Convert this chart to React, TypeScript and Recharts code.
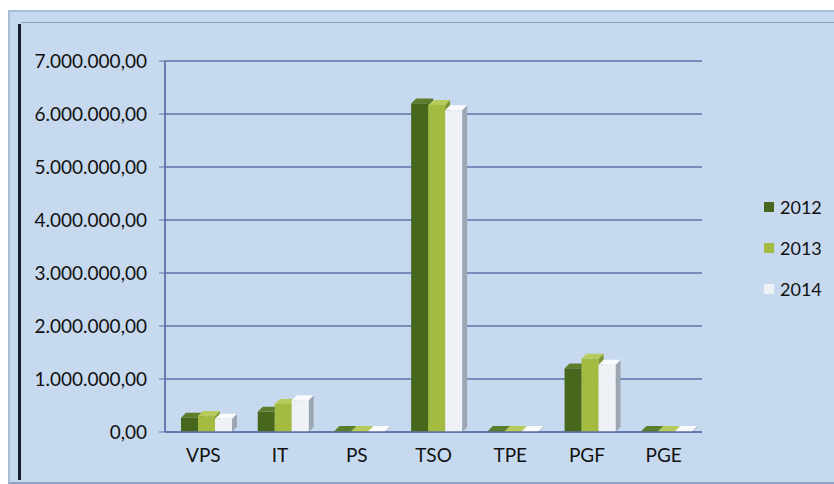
import { Bar, BarChart, CartesianGrid, Legend, XAxis, YAxis } from "recharts";

const categories = ["VPS", "IT", "PS", "TSO", "TPE", "PGF", "PGE"];
const values2012 = [270000, 380000, 20000, 6200000, 20000, 1200000, 20000];
const values2013 = [300000, 530000, 20000, 6170000, 20000, 1380000, 20000];
const values2014 = [250000, 600000, 20000, 6070000, 20000, 1270000, 20000];
const yTicks = [0, 1000000, 2000000, 3000000, 4000000, 5000000, 6000000, 7000000];

const series = [
  { key: "y2012", name: "2012", front: "#46671c", side: "#30491a", top: "#5c7e2c" },
  { key: "y2013", name: "2013", front: "#a2bb40", side: "#7d952e", top: "#b6cb5c" },
  { key: "y2014", name: "2014", front: "#eef2f6", side: "#9ba6b2", top: "#f8fafc" },
];

const data = categories.map((c, i) => ({
  name: c,
  y2012: values2012[i],
  y2013: values2013[i],
  y2014: values2014[i],
}));

const fmt = (v: number) =>
  v
    .toFixed(2)
    .replace(".", ",")
    .replace(/\B(?=(\d{3})+(?!\d))/g, ".");

const FONT = "Lato, 'Noto Sans', sans-serif";
const DEPTH = 5;
const SHIFT = 3;

function Bar3D(colors: { front: string; side: string; top: string }) {
  return (props: any) => {
    const { y, width, height } = props;
    const x = props.x + SHIFT;
    if (!height || height <= 0) {
      return <g />;
    }
    const d = DEPTH;
    return (
      <g>
        <polygon
          points={`${x + width},${y} ${x + width + d},${y - d} ${x + width + d},${y + height - d} ${x + width},${y + height}`}
          fill={colors.side}
        />
        <polygon
          points={`${x},${y} ${x + d},${y - d} ${x + width + d},${y - d} ${x + width},${y}`}
          fill={colors.top}
        />
        <rect x={x} y={y} width={width} height={height} fill={colors.front} />
      </g>
    );
  };
}

function LegendBox() {
  return (
    <div style={{ fontFamily: FONT, fontSize: 18, color: "#111", width: 70 }}>
      {series.map((s) => (
        <div key={s.key} style={{ display: "flex", alignItems: "center", height: 41 }}>
          <span
            style={{
              display: "inline-block",
              width: 10,
              height: 10,
              background: s.front,
              marginRight: 6,
            }}
          />
          {s.name}
        </div>
      ))}
    </div>
  );
}

export default function App() {
  return (
    <div style={{ position: "fixed", left: 0, top: 0, width: 834, height: 484, background: "#ffffff" }}>
      <div
        style={{
          position: "absolute",
          left: 8,
          top: 10,
          width: 826,
          height: 474,
          background: "#c7d9ee",
          borderTop: "2px solid #a9bcd8",
          borderLeft: "2px solid #a9bcd8",
          borderBottom: "2px solid #8fa3c8",
          boxSizing: "border-box",
        }}
      >
        <div
          style={{
            position: "absolute",
            left: 8,
            top: 12,
            width: 3,
            bottom: 2,
            background: "#141c30",
          }}
        />
        <div
          style={{
            position: "absolute",
            left: 11,
            top: 10,
            right: 0,
            height: 1,
            background: "#8fa3c8",
          }}
        />
        <div style={{ position: "absolute", left: 0, top: 0 }}>
          <BarChart
            width={824}
            height={472}
            data={data}
            margin={{ top: 49, right: 62, bottom: 0, left: 0 }}
            barGap={0}
            barSize={17}
          >
            <CartesianGrid vertical={false} stroke="#5f73a8" strokeWidth={1.5} />
            <XAxis
              dataKey="name"
              height={52}
              tick={{ fontSize: 19, fill: "#111", fontFamily: FONT }}
              tickLine={false}
              axisLine={{ stroke: "#5f73a8", strokeWidth: 1.5 }}
              tickMargin={11}
            />
            <YAxis
              width={155}
              domain={[0, 7000000]}
              ticks={yTicks}
              tickFormatter={fmt}
              tick={{ fontSize: 19, fill: "#111", fontFamily: FONT }}
              tickLine={{ stroke: "#5f73a8" }}
              tickSize={6}
              tickMargin={12}
              axisLine={{ stroke: "#4a5c98", strokeWidth: 1.5 }}
            />
            <Legend
              layout="vertical"
              align="right"
              verticalAlign="middle"
              wrapperStyle={{ right: 0, width: 70 }}
              content={() => <LegendBox />}
            />
            {series.map((s) => (
              <Bar
                key={s.key}
                dataKey={s.key}
                name={s.name}
                fill={s.front}
                shape={Bar3D(s)}
                isAnimationActive={false}
              />
            ))}
          </BarChart>
        </div>
      </div>
    </div>
  );
}
